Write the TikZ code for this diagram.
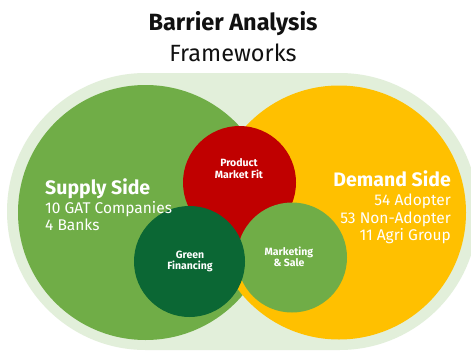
\documentclass[tikz,border=0pt]{standalone}
\usepackage{fontspec}
\setmainfont{Fira Sans}
\definecolor{bgpale}{HTML}{E2EFDA}
\definecolor{supplygreen}{HTML}{70AD47}
\definecolor{demandgold}{HTML}{FFC000}
\definecolor{fitred}{HTML}{C00000}
\definecolor{financegreen}{HTML}{0B6734}
\definecolor{titleink}{HTML}{111111}
\tikzset{
  disc/.style={circle, inner sep=0pt, outer sep=0pt, draw=none},
  bigtitle/.style={font=\fontsize{23.5}{26}\selectfont\bfseries, text=titleink, inner sep=0pt, anchor=base},
  subtitle/.style={font=\fontsize{23.5}{26}\selectfont, text=titleink, inner sep=0pt, anchor=base},
  sidehead/.style={font=\fontsize{19.5}{22}\selectfont\bfseries, text=white, inner sep=0pt},
  sidebody/.style={font=\fontsize{15.5}{17.5}\selectfont, text=white, inner sep=0pt},
  disclabel/.style={font=\fontsize{10.5}{11.5}\selectfont\bfseries, text=white, inner sep=0pt, align=center}
}
\begin{document}
\begin{tikzpicture}[x=1pt,y=-1pt]
  \clip (0,0) rectangle (471,351);
  \fill[white] (0,0) rectangle (471,351);
  % pale backdrop behind the two sides
  \fill[bgpale, rounded corners=138.5pt] (7,73) rectangle (478,350);
  % the two sides
  \node[disc, fill=supplygreen, minimum size=255] (supply) at (145.5,212.5) {};
  \node[disc, fill=demandgold, minimum size=254] (demand) at (339,212.5) {};
  % the three barrier areas
  \node[disc, fill=fitred, minimum size=113] (fit) at (239.5,182.5) {};
  \node[disc, fill=supplygreen, minimum size=110] (market) at (292,257.5) {};
  \node[disc, fill=financegreen, minimum size=111] (finance) at (189.5,261.5) {};
  % titles
  \node[bigtitle] (title) at (233,30) {Barrier Analysis};
  \node[subtitle] (subtitle) at (233,61) {Frameworks};
  % side descriptions
  \node[sidehead, anchor=base west] (supplyhead) at (45,194) {Supply Side};
  \node[sidebody, anchor=base west] (supplya) at (45,213) {10 GAT Companies};
  \node[sidebody, anchor=base west] (supplyb) at (45,230.5) {4 Banks};
  \node[sidehead, anchor=base east] (demandhead) at (451,186) {Demand Side};
  \node[sidebody, anchor=base east] (demanda) at (451,205.5) {54 Adopter};
  \node[sidebody, anchor=base east] (demandb) at (451,223) {53 Non-Adopter};
  \node[sidebody, anchor=base east] (demandc) at (451,240.5) {11 Agri Group};
  % labels of the barrier areas
  \node[disclabel] (fitlabel) at (239,168.5) {Product\\Market Fit};
  \node[disclabel] (financelabel) at (190,261.5) {Green\\Financing};
  \node[disclabel] (marketlabel) at (289,257) {Marketing\\\& Sale};
\end{tikzpicture}
\end{document}
